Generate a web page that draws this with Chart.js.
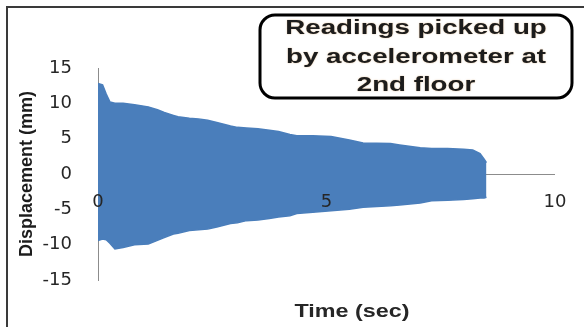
<!DOCTYPE html>
<html>
<head>
<meta charset="utf-8">
<script src="https://cdn.jsdelivr.net/npm/chart.js@4.4.0/dist/chart.umd.min.js"></script>
<style>
    html, body { margin: 0; padding: 0; background: #fff; }
    #wrap { width: 584px; height: 327px; }
</style>
</head>
<body>
<div id="wrap"><canvas id="chart" width="584" height="327"></canvas></div>
<script>
const times = [0, 0.1, 0.18, 0.26, 0.37, 0.55, 0.8, 1.1, 1.3, 1.45, 1.65, 1.75, 2.0, 2.2, 2.4, 2.6, 2.9, 3.05, 3.25, 3.5,
    3.75, 3.95, 4.2, 4.35, 4.7, 5.1, 5.5, 5.8, 6.4, 6.6, 7.05, 7.3, 7.65, 8.0, 8.2, 8.36, 8.45, 8.5];
// upper / lower peaks of the displacement trace (mm)
const upperPeaks = [12.8, 12.6, 11.3, 10.2, 10.0, 10.0, 9.8, 9.5, 9.1, 8.7, 8.3, 8.1, 7.9, 7.8, 7.6, 7.3, 6.8, 6.6, 6.5, 6.4,
    6.2, 6.0, 5.6, 5.4, 5.4, 5.3, 4.8, 4.4, 4.3, 4.1, 3.7, 3.6, 3.6, 3.5, 3.4, 2.9, 2.1, 1.6];
const lowerPeaks = [-9.4, -9.2, -9.3, -9.8, -10.6, -10.4, -10.0, -9.9, -9.4, -9.0, -8.5, -8.4, -8.0, -7.9, -7.8, -7.5, -7.0, -6.9, -6.6, -6.5,
    -6.3, -6.1, -5.9, -5.6, -5.4, -5.2, -5.0, -4.7, -4.5, -4.4, -4.1, -3.8, -3.7, -3.6, -3.5, -3.4, -3.4, -3.3];

const xTicks = [0, 5, 10];
const yTicks = [-15, -10, -5, 0, 5, 10, 15];
const titleLines = ["Readings picked up", "by accelerometer at", "2nd floor"];
const xTitle = "Time (sec)";
const yTitle = "Displacement (mm)";

const blue = '#4a7ebb';

// frame, title box and x title (drawn by hand, Excel-like)
const decorations = {
    id: 'decorations',
    beforeDraw(chart) {
        const ctx = chart.ctx;
        ctx.save();
        ctx.fillStyle = '#fff';
        ctx.fillRect(0, 0, chart.width, chart.height);
        ctx.strokeStyle = '#3a3a3a';
        ctx.lineWidth = 2;
        ctx.beginPath();
        ctx.moveTo(7, chart.height);
        ctx.lineTo(7, 7);
        ctx.lineTo(chart.width, 7);
        ctx.stroke();
        ctx.restore();
    },
    afterDraw(chart) {
        const ctx = chart.ctx;
        ctx.save();

        // rounded title box
        ctx.lineWidth = 3;
        ctx.strokeStyle = '#000';
        ctx.fillStyle = '#fff';
        ctx.beginPath();
        ctx.roundRect(260, 15, 312, 83, 15);
        ctx.fill();
        ctx.stroke();

        ctx.font = 'bold 20px "Liberation Sans"';
        ctx.textAlign = 'center';
        ctx.textBaseline = 'middle';
        ctx.fillStyle = '#1c1c1c';
        ctx.shadowColor = 'rgba(190,120,40,0.55)';
        ctx.shadowBlur = 1.5;
        const sx = 260 / ctx.measureText(titleLines[1]).width;
        const ys = [28, 57, 85];
        titleLines.forEach((line, i) => {
            ctx.save();
            ctx.translate(416, ys[i]);
            ctx.scale(sx, 1);
            ctx.fillText(line, 0, 0);
            ctx.restore();
        });

        // x axis title
        ctx.shadowBlur = 0;
        ctx.shadowColor = 'transparent';
        ctx.font = 'bold 18px "Liberation Sans"';
        ctx.fillStyle = '#262626';
        const tx = 115 / ctx.measureText(xTitle).width;
        ctx.translate(352, 312);
        ctx.scale(tx, 1);
        ctx.fillText(xTitle, 0, 0);
        ctx.restore();
    }
};

const upperData = times.map((t, i) => ({x: t, y: upperPeaks[i]}));
const lowerData = times.map((t, i) => ({x: t, y: lowerPeaks[i]}));

const chart = new Chart(document.getElementById('chart'), {
    type: 'line',
    data: {
        datasets: [
            {data: upperData, borderColor: blue, backgroundColor: blue, borderWidth: 1.5, pointRadius: 0, fill: '+1', tension: 0},
            {data: lowerData, borderColor: blue, backgroundColor: blue, borderWidth: 1.5, pointRadius: 0, fill: false, tension: 0}
        ]
    },
    options: {
        responsive: false,
        animation: false,
        layout: { padding: { top: 68, right: 29, bottom: 47, left: 0 } },
        plugins: { legend: { display: false }, tooltip: { enabled: false }, title: { display: false } },
        scales: {
            x: {
                type: 'linear',
                position: { y: 0 },
                min: 0, max: 10,
                afterFit(scale) { scale.paddingLeft = 0; scale.paddingRight = 0; scale.paddingTop = 0; scale.paddingBottom = 0; },
                afterBuildTicks(scale) { scale.ticks = xTicks.map(v => ({value: v})); },
                grid: { display: false, drawTicks: false },
                border: { display: false },
                ticks: {
                    z: 1,
                    padding: 18, maxRotation: 0, autoSkip: false,
                    color: '#262626',
                    font: { family: 'DejaVu Sans', size: 18 }
                }
            },
            y: {
                type: 'linear',
                position: 'left',
                min: -15, max: 15,
                afterFit(scale) { scale.width = 98; scale.paddingTop = 0; scale.paddingBottom = 0; },
                afterBuildTicks(scale) { scale.ticks = yTicks.map(v => ({value: v})); },
                grid: {
                    drawTicks: false,
                    color: (c) => c.tick && c.tick.value === 0 ? '#8c8c8c' : 'rgba(0,0,0,0)',
                    lineWidth: 1
                },
                border: { display: true, color: '#8c8c8c', width: 1 },
                ticks: {
                    padding: 26,
                    color: '#262626',
                    font: { family: 'DejaVu Sans', size: 18 }
                },
                title: {
                    display: true,
                    text: yTitle,
                    color: '#1c1c1c',
                    padding: { top: 16, bottom: 0 },
                    font: { family: 'Liberation Sans', size: 18, weight: 'bold' }
                }
            }
        }
    },
    plugins: [decorations]
});
</script>
</body>
</html>
